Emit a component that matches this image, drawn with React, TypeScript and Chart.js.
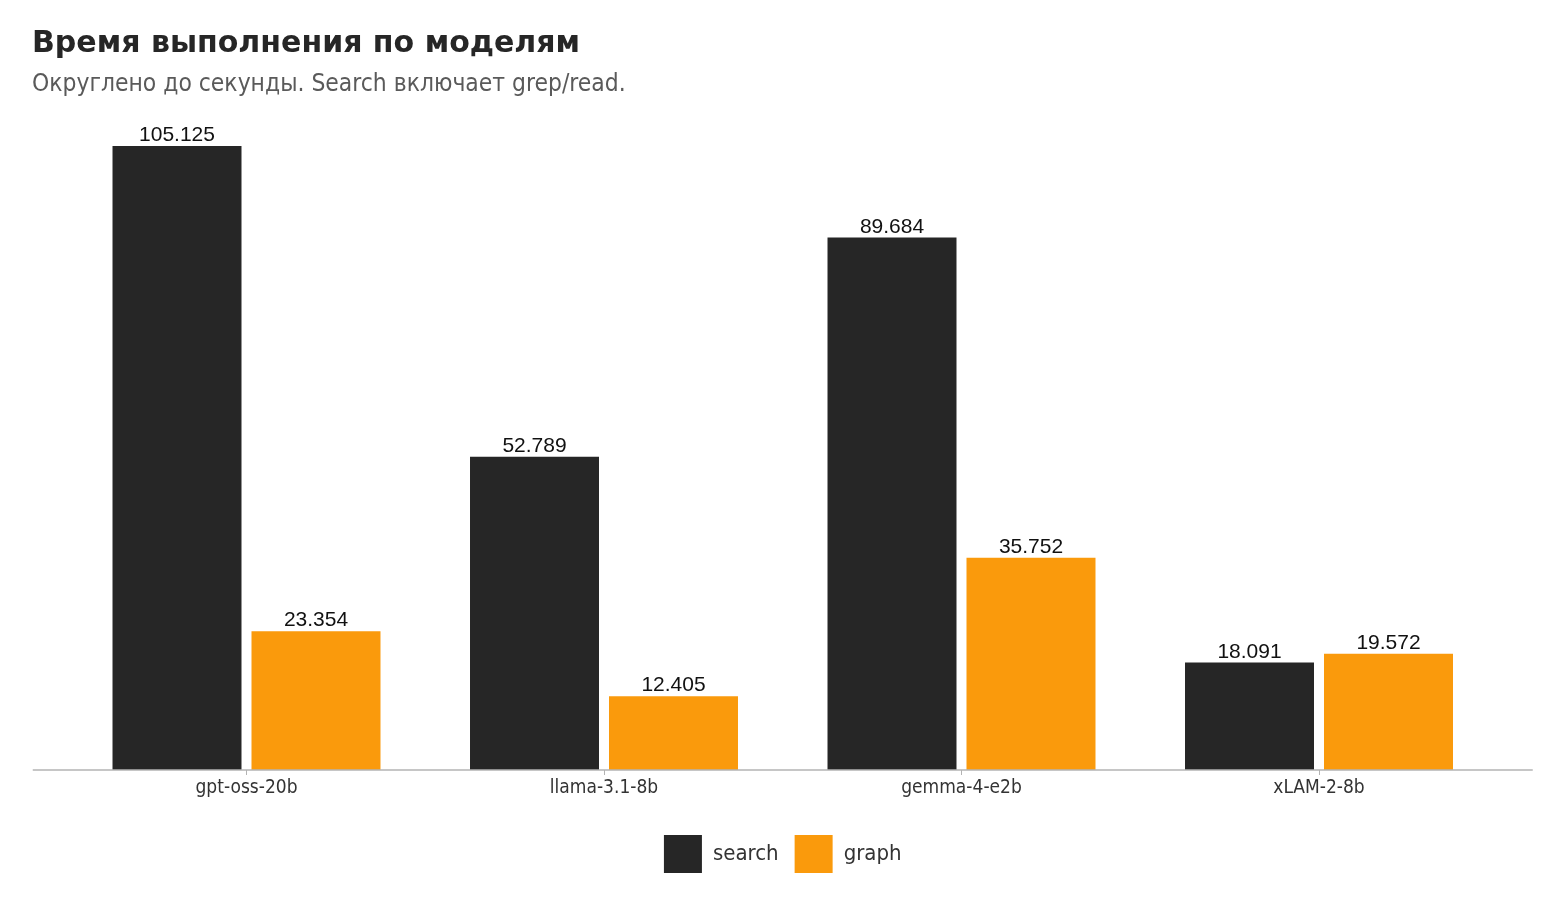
import React, { useEffect, useRef } from "react";
import { Chart, registerables } from "chart.js";

Chart.register(...registerables);

const categories = ["gpt-oss-20b", "llama-3.1-8b", "gemma-4-e2b", "xLAM-2-8b"];
const searchValues = [105.125, 52.789, 89.684, 18.091];
const graphValues = [23.354, 12.405, 35.752, 19.572];
const seriesNames = ["search", "graph"];
const titleText = "Время выполнения по моделям";
const subtitleText = "Округлено до секунды. Search включает grep/read.";

const UI_FONT = "'DejaVu Sans Condensed', 'DejaVu Sans', sans-serif";
const TITLE_FONT = "'DejaVu Sans', sans-serif";
const LABEL_FONT = "'Liberation Sans', Arial, sans-serif";
const AXIS_COLOR = "#b3b3b3";

const valueLabels = {
  id: "valueLabels",
  afterDatasetsDraw(chart: any) {
    const ctx = chart.ctx;
    ctx.save();
    ctx.font = `21px ${LABEL_FONT}`;
    ctx.fillStyle = "#111111";
    ctx.textAlign = "center";
    ctx.textBaseline = "alphabetic";
    chart.data.datasets.forEach((ds: any, i: number) => {
      const meta = chart.getDatasetMeta(i);
      meta.data.forEach((bar: any, j: number) => {
        ctx.fillText(String(ds.data[j]), bar.x, bar.y - 5);
      });
    });
    ctx.restore();
  },
};

const baseLine = {
  id: "baseLine",
  afterDatasetsDraw(chart: any) {
    const { ctx, chartArea } = chart;
    const y = chart.scales.x.top;
    ctx.save();
    ctx.strokeStyle = AXIS_COLOR;
    ctx.lineWidth = 1.6;
    ctx.beginPath();
    ctx.moveTo(chartArea.left - 35, y);
    ctx.lineTo(chartArea.right + 35, y);
    ctx.stroke();
    ctx.restore();
  },
};

function BarChart() {
  const ref = useRef<HTMLCanvasElement | null>(null);
  useEffect(() => {
    if (!ref.current) return;
    const chart = new Chart(ref.current, {
      type: "bar",
      data: {
        labels: categories,
        datasets: [
          {
            label: seriesNames[0],
            data: searchValues,
            backgroundColor: "#262626",
            borderWidth: 0,
            categoryPercentage: 0.7776,
            barPercentage: 0.928,
          },
          {
            label: seriesNames[1],
            data: graphValues,
            backgroundColor: "#FA9A0C",
            borderWidth: 0,
            categoryPercentage: 0.7776,
            barPercentage: 0.928,
          },
        ],
      },
      options: {
        animation: false,
        responsive: false,
        devicePixelRatio: 1,
        layout: { padding: { top: 117, left: 67.75, right: 62.25, bottom: 18 } },
        plugins: {
          legend: {
            position: "bottom",
            labels: {
              boxWidth: 38,
              boxHeight: 38,
              padding: 16,
              color: "#333333",
              font: { size: 22, family: UI_FONT },
            },
          },
          tooltip: { enabled: false },
          title: { display: false },
        },
        scales: {
          x: {
            grid: {
              display: true,
              drawOnChartArea: false,
              drawTicks: true,
              tickLength: 5,
              offset: false,
              color: AXIS_COLOR,
            },
            border: { display: false },
            ticks: {
              color: "#333333",
              padding: 2,
              font: { size: 19, family: UI_FONT },
            },
            afterFit(scale: any) {
              scale.height = 49;
            },
          },
          y: {
            display: false,
            min: 0,
            max: 110,
          },
        },
      },
      plugins: [valueLabels, baseLine],
    });
    return () => chart.destroy();
  }, []);
  return <canvas ref={ref} width={1560} height={901} style={{ position: "absolute", left: 0, top: 0 }} />;
}

export default function App() {
  return (
    <div style={{ position: "absolute", left: 0, top: 0, width: 1560, height: 901, background: "#ffffff", overflow: "hidden" }}>
      <BarChart />
      <div
        style={{
          position: "absolute",
          left: 32,
          top: 26,
          fontFamily: TITLE_FONT,
          fontWeight: "bold",
          fontSize: 30,
          lineHeight: "32px",
          color: "#262626",
          whiteSpace: "nowrap",
        }}
      >
        {titleText}
      </div>
      <div
        style={{
          position: "absolute",
          left: 32,
          top: 69,
          fontFamily: UI_FONT,
          fontSize: 24.4,
          lineHeight: "28px",
          color: "#5a5a5a",
          whiteSpace: "nowrap",
        }}
      >
        {subtitleText}
      </div>
    </div>
  );
}
